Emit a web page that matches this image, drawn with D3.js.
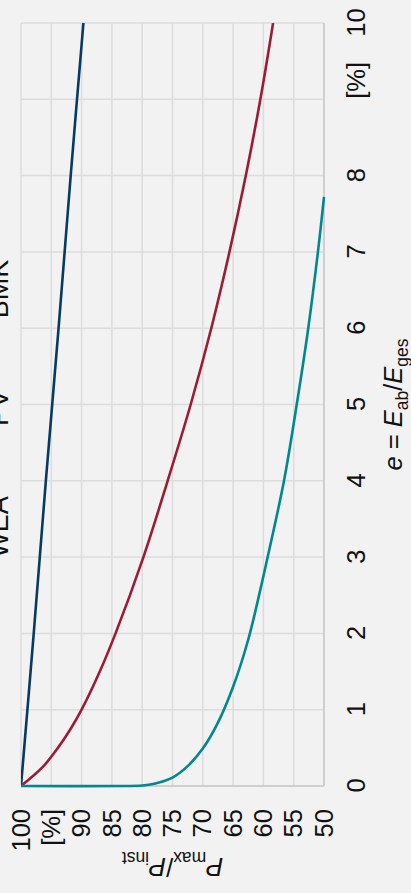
<!DOCTYPE html>
<html>
<head>
<meta charset="utf-8">
<script src="https://cdn.jsdelivr.net/npm/d3@7"></script>
<style>
  body { margin: 0; background: #f2f2f2; }
  svg { display: block; }
</style>
</head>
<body>
<script>
// values
var eTicks = [0, 1, 2, 3, 4, 5, 6, 7, 8, 9, 10];
var pTicks = [50, 55, 60, 65, 70, 75, 80, 85, 90, 95, 100];
var legendLabels = ["WEA", "PV", "BMK"];

var weaE = [0, 2, 4, 6, 8, 10];
var weaP = [100, 97.9, 95.9, 93.8, 91.8, 89.7];

var pvE = [0, 0.25, 0.5, 0.75, 1, 1.5, 2, 3, 4, 5, 6, 7, 8, 9, 10];
var pvP = [100, 96.4, 93.9, 91.8, 90, 87.0, 84.4, 79.8, 75.8, 72, 68.6, 65.6, 62.9, 60.5, 58.4];

var bmkE = [0, 0, 0.006, 0.03, 0.11, 0.26, 0.49, 0.83, 1.3, 1.92, 2.75, 3, 4, 5, 6, 7, 7.72];
var bmkP = [100, 83, 80, 78, 75, 72.5, 70, 67.5, 65, 62.5, 60, 59.3, 56.6, 54.5, 52.6, 51, 50];

var colors = ["#063a62", "#9a1c35", "#00878f"];

var W = 411, H = 893;
// chart is laid out landscape, then turned a quarter left
var padL = 107, padR = 870, padT = 21, padB = 324;
var fs = 25.5;

var svg = d3.select("body").append("svg").attr("width", W).attr("height", H);
svg.append("rect").attr("width", W).attr("height", H).attr("fill", "#f2f2f2");

var g = svg.append("g").attr("transform", "translate(0," + H + ") rotate(-90)");

var x = d3.scaleLinear().domain([0, 10]).range([padL, padR]);
var y = d3.scaleLinear().domain([50, 100]).range([padB, padT]);

var font = "'Liberation Sans', Arial, sans-serif";

// grid
g.append("g").selectAll("line").data(eTicks).enter().append("line")
    .attr("x1", d => x(d)).attr("x2", d => x(d))
    .attr("y1", padT).attr("y2", padB)
    .attr("stroke", "#dcdcdc").attr("stroke-width", 1.5);
g.append("g").selectAll("line").data(pTicks).enter().append("line")
    .attr("x1", padL).attr("x2", padR)
    .attr("y1", d => y(d)).attr("y2", d => y(d))
    .attr("stroke", "#dcdcdc").attr("stroke-width", 1.5);
// axis lines
g.append("line").attr("x1", padL).attr("x2", padR).attr("y1", padB).attr("y2", padB)
    .attr("stroke", "#c9c9c9").attr("stroke-width", 1.5);
g.append("line").attr("x1", padL).attr("x2", padL).attr("y1", padT).attr("y2", padB)
    .attr("stroke", "#c9c9c9").attr("stroke-width", 1.5);

// axes
var xAxis = d3.axisBottom(x).tickValues(eTicks).tickSize(0).tickPadding(23)
    .tickFormat(d => d === 9 ? "[%]" : d);
var xArea = g.append("g").attr("transform", "translate(0," + padB + ")").call(xAxis);
xArea.select(".domain").remove();
xArea.selectAll("text")
    .style("font", fs + "px " + font).attr("fill", "#111")
    .attr("text-anchor", d => d === 9 ? "start" : "middle");

var yAxis = d3.axisLeft(y).tickValues(pTicks).tickSize(0).tickPadding(23)
    .tickFormat(d => d === 95 ? "[%]" : d);
var yArea = g.append("g").attr("transform", "translate(" + padL + ",0)").call(yAxis);
yArea.select(".domain").remove();
yArea.selectAll("text").style("font", fs + "px " + font).attr("fill", "#111");

// curves
var defs = g.append("defs");
defs.append("clipPath").attr("id", "plot")
    .append("rect").attr("x", padL - 2).attr("y", padT).attr("width", padR - padL + 2).attr("height", padB - padT + 2);

var series = [
    { e: weaE, p: weaP },
    { e: pvE, p: pvP },
    { e: bmkE, p: bmkP }
];
var line = d3.line()
    .x(d => x(d[0]))
    .y(d => y(d[1]))
    .curve(d3.curveCatmullRom.alpha(0.5));

g.append("g").attr("clip-path", "url(#plot)")
    .selectAll("path").data(series).enter().append("path")
    .attr("d", s => line(s.e.map((v, i) => [v, s.p[i]])))
    .attr("fill", "none")
    .attr("stroke", (s, i) => colors[i])
    .attr("stroke-width", 2.6)
    .attr("stroke-linejoin", "round");

// axis titles
var xt = g.append("text")
    .attr("x", (padL + padR) / 2).attr("y", 402)
    .attr("text-anchor", "middle")
    .style("font", fs + "px " + font).attr("fill", "#111");
xt.append("tspan").text("e").style("font-style", "italic");
xt.append("tspan").text(" = ");
xt.append("tspan").text("E").style("font-style", "italic");
xt.append("tspan").text("ab").attr("dy", 6).style("font-size", "17.5px");
xt.append("tspan").text("/").attr("dy", -6);
xt.append("tspan").text("E").style("font-style", "italic");
xt.append("tspan").text("ges").attr("dy", 6).style("font-size", "17.5px");

var yt = g.append("text")
    .attr("transform", "translate(35," + (padT + padB) / 2 + ") rotate(-90)")
    .attr("text-anchor", "middle")
    .style("font", fs + "px " + font).attr("fill", "#111");
yt.append("tspan").text("P").style("font-style", "italic");
yt.append("tspan").text("max").attr("dy", 6).style("font-size", "17.5px");
yt.append("tspan").text("/").attr("dy", -6);
yt.append("tspan").text("P").style("font-style", "italic");
yt.append("tspan").text("inst").attr("dy", 6).style("font-size", "17.5px");

// legend (mostly cut off at the page edge)
var legendX = d3.scalePoint().domain(legendLabels).range([366, 604]);
g.append("g").selectAll("text").data(legendLabels).enter().append("text")
    .attr("x", d => legendX(d)).attr("y", 8)
    .attr("text-anchor", "middle")
    .style("font", "27px " + font).attr("fill", "#111")
    .text(d => d);
</script>
</body>
</html>
